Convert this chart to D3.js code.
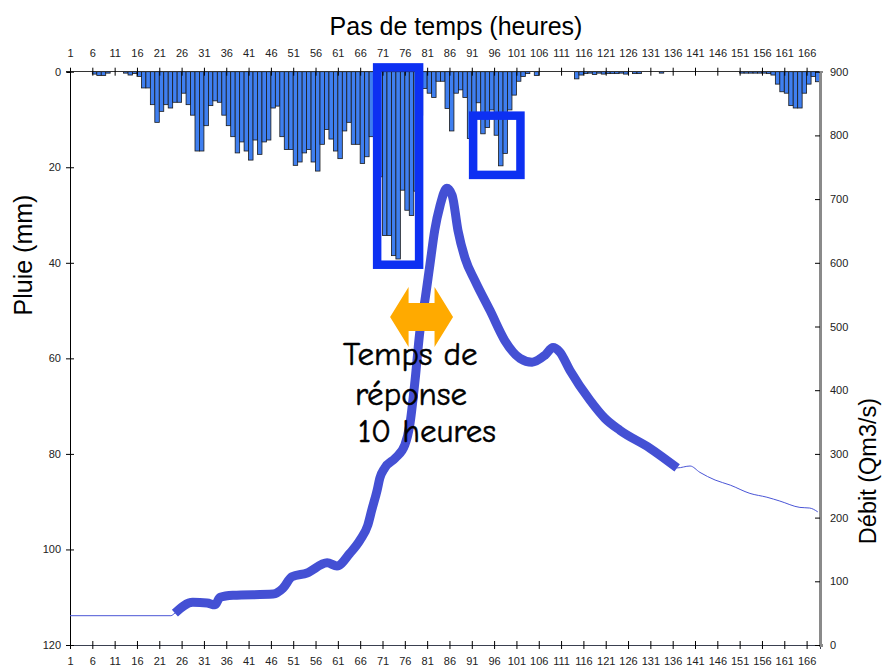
<!DOCTYPE html>
<html>
<head>
<meta charset="utf-8">
<script src="https://cdn.jsdelivr.net/npm/d3@7"></script>
<style>
  body { margin: 0; background: #fff; }
</style>
</head>
<body>
<div class="chart-container"></div>
<script>
// Hourly rainfall (mm), hours 1..168
const rain = [
  0, 0, 0, 0, 0, 0.5, 0.8, 0.8, 0.3, 0,
  0, 0, 0.3, 0.7, 0.4, 1.0, 3.4, 3.4, 6.9, 10.6,
  8.3, 6.9, 7.6, 6.4, 6.4, 4.5, 6.9, 9.1, 16.6, 16.6,
  11.3, 7.1, 6.1, 6.4, 9.1, 11.3, 13.6, 17.0, 14.7, 16.6,
  18.5, 14.3, 17.3, 14.7, 14.3, 7.6, 7.2, 13.6, 16.3, 16.3,
  19.6, 18.9, 17.0, 16.3, 18.9, 20.8, 15.2, 12.1, 14.1, 16.6,
  18.2, 12.4, 10.6, 15.2, 15.2, 19.2, 17.8, 13.6, 18.0, 22.0,
  34.3, 34.3, 38.5, 39.2, 24.8, 29.0, 30.1, 25.0, 9.1, 3.5,
  4.5, 5.4, 2.0, 2.0, 7.7, 12.4, 4.5, 3.8, 5.4, 14.0,
  14.5, 6.5, 13.0, 11.7, 8.0, 13.3, 19.7, 17.1, 8.0, 4.9,
  2.0, 1.0, 0.4, 0, 0.8, 0, 0, 0, 0, 0,
  0, 0, 0, 1.5, 0.7, 0.4, 0.3, 0.6, 0.3, 0.5,
  0.4, 0.4, 0.4, 0.3, 0.5, 0, 0.4, 0.4, 0, 0,
  0, 0, 0.3, 0, 0, 0, 0, 0, 0, 0,
  0, 0, 0, 0, 0, 0, 0, 0, 0, 0,
  0.3, 0.3, 0.3, 0.3, 0.3, 0.3, 0.4, 0.7, 2.6, 4.2,
  4.5, 7.1, 7.6, 7.6, 4.5, 2.6, 1.0, 2.1
];

// Discharge (Qm3/s) read along the hydrograph
const flowHours = [1, 23.6, 24.5, 28.5, 31.7, 33.5, 34.6, 37.5, 46.5, 48.7, 50.7, 54.1,
  58.6, 60.8, 63.7, 66, 67.7, 68.6, 69.8, 70.4, 71.5, 73.8, 76, 77.1, 78.3, 79.4,
  80.5, 81.6, 82.7, 83.9, 85.4, 86.6, 87.9, 89.5, 91.7, 95.1, 98.4, 101.8, 104.5,
  107.4, 109.2, 110.7, 113, 117.5, 120.8, 124.2, 130.9, 137, 139.9, 142.1, 145.5,
  148.9, 153.3, 157.1, 160, 164.5, 166.7, 168.5];
const flowValues = [46, 46, 50, 67, 66, 63, 75, 78, 80, 89, 107, 113,
  129, 124, 144, 165, 188, 212, 243, 262, 278, 293, 314, 345, 416, 494,
  541, 596, 651, 690, 717, 706, 651, 607, 572, 525, 478, 450, 444,
  455, 467, 460, 431, 384, 356, 337, 309, 278, 281, 271, 259,
  251, 238, 232, 226, 216, 215, 209];

const hourTicks = [1, 6, 11, 16, 21, 26, 31, 36, 41, 46, 51, 56, 61, 66, 71, 76, 81, 86,
  91, 96, 101, 106, 111, 116, 121, 126, 131, 136, 141, 146, 151, 156, 161, 166];
const rainTicks = [0, 20, 40, 60, 80, 100, 120];
const flowTicks = [0, 100, 200, 300, 400, 500, 600, 700, 800, 900];

// highlighted part of the hydrograph, annotation boxes (hours / mm), response-time arrow (hours)
const thickRange = [24.5, 137];
const boxes = [
  { h0: 69.8, h1: 79.2, r0: -0.9, r1: 40.4 },
  { h0: 91.3, h1: 101.9, r0: 9.2, r1: 21.6 }
];
const arrowHours = [72.7, 86.8];

function draw() {
    const width = 882;
    const height = 666;
    const left = 70, right = 820, top = 71.7, bottom = 645;
    const sans = '"Liberation Sans", Arial, sans-serif';

    const x = d3.scaleLinear().domain([1, 169]).range([left, right]);
    const yRain = d3.scaleLinear().domain([0, 120]).range([top, bottom]);
    const yFlow = d3.scaleLinear().domain([0, 900]).range([bottom, top]);

    const svg = d3.select('.chart-container').append('svg')
        .attr('width', width)
        .attr('height', height);

    // rain bars hanging from the top
    svg.append('g')
        .selectAll('rect')
        .data(rain.map((v, i) => ({ h: i + 1, v: v })).filter(d => d.v > 0))
        .enter()
        .append('rect')
        .attr('x', d => x(d.h))
        .attr('y', yRain(0))
        .attr('width', x(2) - x(1))
        .attr('height', d => yRain(d.v) - yRain(0))
        .attr('fill', '#3f7ff0')
        .attr('stroke', '#1a1a1a')
        .attr('stroke-width', 0.8);

    // Top axis
    const gTop = svg.append('g')
        .attr('transform', `translate(0,${top})`)
        .call(d3.axisTop(x).tickValues(hourTicks).tickSize(4).tickPadding(11));
    gTop.selectAll('.tick line').attr('y1', -4).attr('y2', 4);

    // Bottom axis
    const gBottom = svg.append('g')
        .attr('transform', `translate(0,${bottom})`)
        .call(d3.axisBottom(x).tickValues(hourTicks).tickSize(4).tickPadding(8));
    gBottom.selectAll('.tick line').attr('y1', -4).attr('y2', 4);
    gBottom.select('.domain').attr('stroke', '#3a4050').attr('stroke-width', 1.5);

    // Left axis (rain)
    const gLeft = svg.append('g')
        .attr('transform', `translate(${left},0)`)
        .call(d3.axisLeft(yRain).tickValues(rainTicks).tickSize(3).tickPadding(6));
    gLeft.selectAll('.tick line').attr('x1', -4).attr('x2', 4);

    // Right axis (flow)
    const gRight = svg.append('g')
        .attr('transform', `translate(${right},0)`)
        .call(d3.axisRight(yFlow).tickValues(flowTicks).tickSize(3).tickPadding(7));
    gRight.selectAll('.tick line').attr('x1', -5).attr('x2', 0);
    gRight.select('.domain').attr('stroke', '#8a8a8a').attr('stroke-width', 2.5);

    svg.selectAll('.domain').attr('shape-rendering', 'crispEdges');
    svg.selectAll('.tick text')
        .style('font-family', sans)
        .style('font-size', '11px')
        .attr('fill', '#222');
    gTop.select('.domain').attr('d', `M${left - 4},0H${right}`).attr('stroke', '#333');

    // Hydrograph
    const flow = flowHours.map((h, i) => ({ h: h, q: flowValues[i] }));
    const line = d3.line()
        .x(d => x(d.h))
        .y(d => yFlow(d.q))
        .curve(d3.curveMonotoneX);

    svg.append('path')
        .datum(flow)
        .attr('d', line)
        .attr('fill', 'none')
        .attr('stroke', '#4a55d6')
        .attr('stroke-width', 1);

    svg.append('path')
        .datum(flow.filter(d => d.h >= thickRange[0] && d.h <= thickRange[1]))
        .attr('d', line)
        .attr('fill', 'none')
        .attr('stroke', '#4450d4')
        .attr('stroke-width', 9)
        .attr('stroke-linejoin', 'round');

    // Highlight boxes
    svg.append('g')
        .selectAll('rect')
        .data(boxes)
        .enter()
        .append('rect')
        .attr('x', d => x(d.h0))
        .attr('y', d => yRain(d.r0))
        .attr('width', d => x(d.h1) - x(d.h0))
        .attr('height', d => yRain(d.r1) - yRain(d.r0))
        .attr('fill', 'none')
        .attr('stroke', '#0d30f2')
        .attr('stroke-width', 8.5);

    // Orange double arrow (response time)
    const ax0 = x(arrowHours[0]), ax1 = x(arrowHours[1]), ay = yFlow(515);
    const head = 18.5, half = 30, shaft = 14;
    const arrow = [
        [ax0, ay], [ax0 + head, ay - half], [ax0 + head, ay - shaft],
        [ax1 - head, ay - shaft], [ax1 - head, ay - half], [ax1, ay],
        [ax1 - head, ay + half], [ax1 - head, ay + shaft],
        [ax0 + head, ay + shaft], [ax0 + head, ay + half]
    ];
    svg.append('polygon')
        .attr('points', arrow.map(p => p.join(',')).join(' '))
        .attr('fill', '#ffaa00');

    // Annotation text
    const comic = '"Comic Sans MS", "Comic Neue", "DejaVu Sans", sans-serif';
    const noteLines = [
        { t: 'Temps de', x: 343, y: 365 },
        { t: 'réponse', x: 355, y: 405 },
        { t: '10 heures', x: 358, y: 442 }
    ];
    svg.append('g')
        .selectAll('text')
        .data(noteLines)
        .enter()
        .append('text')
        .attr('x', d => d.x)
        .attr('y', d => d.y)
        .style('font-family', comic)
        .style('font-size', '33px')
        .attr('fill', '#000')
        .attr('stroke', '#000')
        .attr('stroke-width', 0.5)
        .text(d => d.t);

    // Axis titles
    svg.append('text')
        .attr('x', 456)
        .attr('y', 35)
        .attr('text-anchor', 'middle')
        .style('font-family', sans)
        .style('font-size', '25px')
        .text('Pas de temps (heures)');

    svg.append('text')
        .attr('transform', 'translate(32,255) rotate(-90)')
        .attr('text-anchor', 'middle')
        .style('font-family', sans)
        .style('font-size', '25px')
        .text('Pluie (mm)');

    svg.append('text')
        .attr('transform', 'translate(876,471) rotate(-90)')
        .attr('text-anchor', 'middle')
        .style('font-family', sans)
        .style('font-size', '23.5px')
        .text('Débit (Qm3/s)');
}

draw();
</script>
</body>
</html>
